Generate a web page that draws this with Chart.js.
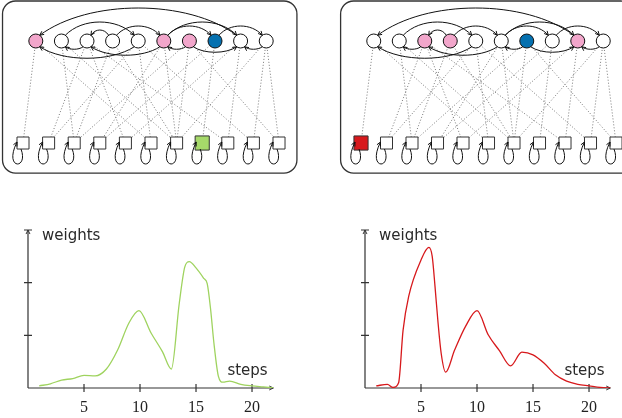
<!DOCTYPE html>
<html>
<head>
<meta charset="utf-8">
<script src="https://cdn.jsdelivr.net/npm/chart.js@4.4.1/dist/chart.umd.min.js"></script>
<style>
body{margin:0;background:#fff;width:622px;height:418px;overflow:hidden;position:relative}
.caja{position:absolute}
</style>
</head>
<body>
<div class="caja" style="left:0;top:0;width:300px;height:178px"><canvas id="grafoIzq"></canvas></div>
<div class="caja" style="left:320px;top:0;width:302px;height:178px"><canvas id="grafoDer"></canvas></div>
<div class="caja" style="left:0;top:220px;width:300px;height:198px"><canvas id="curvaIzq"></canvas></div>
<div class="caja" style="left:337px;top:220px;width:285px;height:198px"><canvas id="curvaDer"></canvas></div>
<script>
// estado de nodos: 0 blanco, 1 rosa, 2 azul
let circulosIzq = [1,0,0,0,0,1,1,2,0,0];
let circulosDer = [0,0,1,1,0,0,2,0,1,0];
// estado de cuadros: 0 blanco, 1 verde, 2 rojo
let cuadrosIzq = [0,0,0,0,0,0,0,1,0,0,0];
let cuadrosDer = [2,0,0,0,0,0,0,0,0,0,0];

// arcos entre circulos [desde, hasta]
let arcosArriba = [[8,0],[1,4],[3,2],[3,5],[5,7],[5,8],[7,9]];
let arcosAbajo = [[4,0],[5,2],[6,5],[6,8],[9,8],[2,1]];
// enlaces punteados [circulo, cuadro]
let enlaces = [[0,0],[0,5],[1,2],[1,6],[2,1],[2,4],[2,8],[3,2],[3,6],[4,1],[4,5],[4,9],
               [5,3],[5,6],[6,2],[6,6],[6,10],[7,7],[7,3],[8,4],[8,8],[9,6],[9,10],[9,9]];

let pasosVerde = [1,2,3,4,5,6,7,8,9,9.9,11,12,12.8,13.5,14,14.4,15,15.7,16,16.3,16.6,17,17.4,18,19,20,21,22];
let pesosVerde = [0.04,0.08,0.15,0.18,0.24,0.23,0.36,0.72,1.23,1.47,1.04,0.69,0.36,1.6,2.3,2.4,2.28,2.08,1.98,1.5,0.85,0.22,0.11,0.13,0.07,0.04,0.02,0];
let pasosRojo = [1,2,2.5,3,3.4,3.9,5,5.7,6,6.25,6.5,6.8,7.2,8,9,10,11,12,13,14,15,16,17,18,19,20,21,22];
let pesosRojo = [0.04,0.07,0.01,0.1,1.1,1.74,2.43,2.67,2.5,1.93,1.29,0.66,0.3,0.72,1.18,1.47,1.01,0.71,0.42,0.68,0.63,0.47,0.25,0.13,0.07,0.04,0.01,0];
let ticksX = [5,10,15,20];
let ticksY = [1,2,3];

let colorCirculo = ['#ffffff','#f2a6cb','#0571b0'];
let colorCuadro = ['#ffffff','#a6d96a','#d7191c'];

function flecha(ctx, x, y, ang){
    var l = 4.5;
    ctx.beginPath();
    ctx.moveTo(x - l*Math.cos(ang - 0.45), y - l*Math.sin(ang - 0.45));
    ctx.lineTo(x, y);
    ctx.lineTo(x - l*Math.cos(ang + 0.45), y - l*Math.sin(ang + 0.45));
    ctx.stroke();
}

function dibujarArco(ctx, sx, sy, a, b, s){
    var r = 7, yc = sy.getPixelForValue(1);
    var xa = sx.getPixelForValue(a + 0.5), xb = sx.getPixelForValue(b + 0.5);
    var dir = xb > xa ? 1 : -1;
    var d = Math.abs(b - a);
    var alto = Math.min(33, 7 + 4*d) * (s > 0 ? 0.75 : 1);
    var t = 0.6;
    var x0 = xa + dir*r*Math.sin(t), x3 = xb - dir*r*Math.sin(t);
    var y0 = yc + s*r*Math.cos(t);
    var yk = (yc + s*alto - 0.25*y0) / 0.75;
    var c1x = x0 + (x3 - x0)*0.25, c2x = x3 - (x3 - x0)*0.25;
    ctx.beginPath();
    ctx.moveTo(x0, y0);
    ctx.bezierCurveTo(c1x, yk, c2x, yk, x3, y0);
    ctx.stroke();
    flecha(ctx, x3, y0, Math.atan2(y0 - yk, x3 - c2x));
}

const pluginGrafo = {
    id: 'grafo',
    afterDatasetsDraw(chart){
        var ctx = chart.ctx, sx = chart.scales.x, sy = chart.scales.y;
        ctx.save();
        // marco redondeado
        ctx.strokeStyle = '#333';
        ctx.lineWidth = 1.3;
        var izq = sx.getPixelForValue(-0.8), der = sx.getPixelForValue(10.7);
        var arr = 1, aba = sy.getPixelForValue(-0.295);
        ctx.beginPath();
        ctx.roundRect(izq, arr, der - izq, aba - arr, 13);
        ctx.stroke();

        ctx.strokeStyle = '#111';
        ctx.lineWidth = 1;
        arcosArriba.forEach(function(p){ dibujarArco(ctx, sx, sy, p[0], p[1], -1); });
        arcosAbajo.forEach(function(p){ dibujarArco(ctx, sx, sy, p[0], p[1], 1); });

        // lazos de cada cuadro
        var n = chart.data.datasets[1].data.length;
        for (var j = 0; j < n; j++){
            var x = sx.getPixelForValue(j), y = sy.getPixelForValue(0);
            ctx.beginPath();
            ctx.moveTo(x - 2, y + 6);
            ctx.bezierCurveTo(x + 6, y + 27, x - 20, y + 27, x - 6, y - 1);
            ctx.stroke();
            flecha(ctx, x - 6, y - 1, Math.atan2(-28, 14));
        }
        ctx.restore();
    }
};

const pluginEjes = {
    id: 'ejes',
    beforeDatasetsDraw(chart){
        var ctx = chart.ctx, sx = chart.scales.x, sy = chart.scales.y;
        var x0 = sx.getPixelForValue(0), y0 = sy.getPixelForValue(0);
        var xf = sx.getPixelForValue(sx.max), yf = sy.getPixelForValue(sy.max);
        ctx.save();
        ctx.strokeStyle = '#333';
        ctx.lineWidth = 1.2;
        ctx.beginPath();
        ctx.moveTo(x0, y0); ctx.lineTo(xf, y0);
        ctx.moveTo(x0, y0); ctx.lineTo(x0, yf);
        ctx.stroke();
        ctx.lineWidth = 1;
        flecha(ctx, xf, y0, 0);
        flecha(ctx, x0, yf, -Math.PI/2);
        ctx.lineWidth = 1.2;
        ctx.beginPath();
        ticksX.forEach(function(v){
            var p = sx.getPixelForValue(v);
            ctx.moveTo(p, y0 - 4); ctx.lineTo(p, y0 + 4);
        });
        ticksY.forEach(function(v){
            var p = sy.getPixelForValue(v);
            ctx.moveTo(x0 - 4, p); ctx.lineTo(x0 + 4, p);
        });
        ctx.stroke();

        ctx.fillStyle = '#2a2a2a';
        ctx.font = '15px "DejaVu Sans"';
        ctx.textBaseline = 'middle';
        ctx.fillText('weights', sx.getPixelForValue(1.25), sy.getPixelForValue(2.876));
        ctx.fillText('steps', sx.getPixelForValue(17.8), sy.getPixelForValue(0.33));
        ctx.restore();
    }
};

function crearGrafo(id, circulos, cuadros, xmin, xmax){
    var datasets = [
        {
            data: circulos.map(function(e, i){ return {x: i + 0.5, y: 1}; }),
            pointStyle: 'circle',
            pointRadius: 7,
            pointBackgroundColor: circulos.map(function(e){ return colorCirculo[e]; }),
            pointBorderColor: '#111',
            pointBorderWidth: 1
        },
        {
            data: cuadros.map(function(e, j){ return {x: j, y: 0}; }),
            pointStyle: 'rect',
            pointRadius: cuadros.map(function(e){ return e ? 10 : 8.5; }),
            pointBackgroundColor: cuadros.map(function(e){ return colorCuadro[e]; }),
            pointBorderColor: '#333',
            pointBorderWidth: 1
        }
    ];
    enlaces.forEach(function(par){
        datasets.push({
            type: 'line',
            data: [{x: par[0] + 0.5, y: 1}, {x: par[1], y: 0}],
            borderColor: '#777',
            borderWidth: 1,
            borderDash: [1, 2],
            pointRadius: 0
        });
    });
    return new Chart(document.getElementById(id), {
        type: 'scatter',
        data: {datasets: datasets},
        options: {
            responsive: true,
            maintainAspectRatio: false,
            animation: false,
            events: [],
            layout: {padding: 0, autoPadding: false},
            plugins: {legend: {display: false}, tooltip: {enabled: false}},
            scales: {
                x: {type: 'linear', display: false, min: xmin, max: xmax},
                y: {type: 'linear', display: false, min: -0.343, max: 1.402}
            }
        },
        plugins: [pluginGrafo]
    });
}

function crearCurva(id, pasos, pesos, color, padIzq, padDer){
    return new Chart(document.getElementById(id), {
        type: 'line',
        data: {
            datasets: [{
                data: pasos.map(function(p, i){ return {x: p, y: pesos[i]}; }),
                borderColor: color,
                borderWidth: 1.3,
                pointRadius: 0,
                cubicInterpolationMode: 'monotone',
                fill: false
            }]
        },
        options: {
            responsive: true,
            maintainAspectRatio: false,
            animation: false,
            events: [],
            layout: {padding: {left: padIzq, right: padDer, top: 10, bottom: 0}, autoPadding: false},
            plugins: {legend: {display: false}, tooltip: {enabled: false}},
            scales: {
                x: {
                    type: 'linear', min: 0, max: 21.9,
                    grid: {display: false, drawTicks: false},
                    border: {display: false},
                    ticks: {
                        stepSize: 5, padding: 10, color: '#222', autoSkip: false, includeBounds: false,
                        maxRotation: 0,
                        font: {family: '"Liberation Serif"', size: 16},
                        callback: function(v){ return (v > 0 && v % 5 === 0) ? v : ''; }
                    },
                    afterFit: function(s){ s.height = 30; }
                },
                y: {type: 'linear', display: false, min: 0, max: 3}
            }
        },
        plugins: [pluginEjes]
    });
}

crearGrafo('grafoIzq', circulosIzq, cuadrosIzq, -0.8984, 10.82);
crearGrafo('grafoDer', circulosDer, cuadrosDer, -1.608, 10.235);
crearCurva('curvaIzq', pasosVerde, pesosVerde, '#9fd35f', 28, 26.7);
crearCurva('curvaDer', pasosRojo, pesosRojo, '#d7191c', 28, 11.7);
</script>
</body>
</html>
